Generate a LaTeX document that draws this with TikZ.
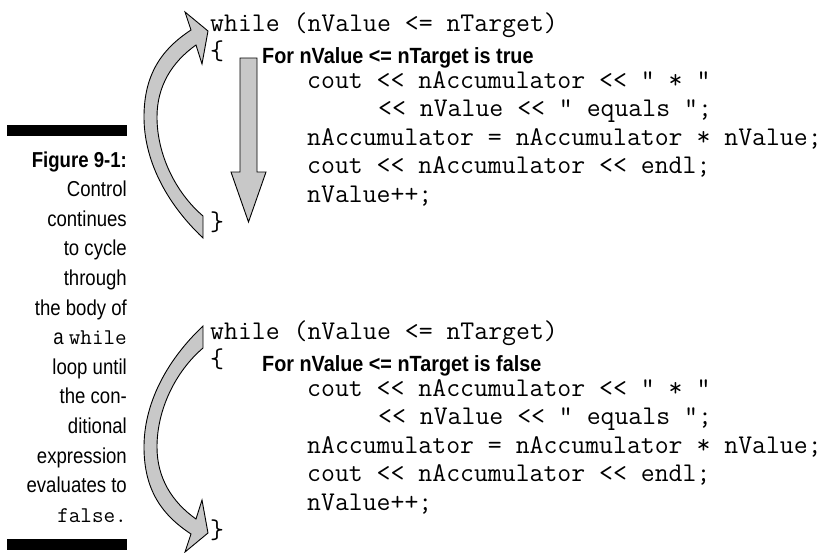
\documentclass[tikz,border=0pt]{standalone}
\usepackage{fontspec}
\newfontfamily\capfont{Liberation Sans}[FakeStretch=0.86]
\newfontfamily\lblfont{Liberation Sans}[FakeStretch=0.9]
\definecolor{arrowgray}{RGB}{200,200,200}
\newcommand{\loopArrowShape}{%
  (203,-326) .. controls (165,-362) and (144,-405) .. (144,-447)
  .. controls (144,-490) and (162,-515) .. (191,-534)
  -- (185,-552) -- (208,-533) -- (202,-500) -- (196,-519)
  .. controls (172,-502) and (157,-478) .. (157,-447)
  .. controls (157,-410) and (175,-372) .. (203,-348) -- cycle}
\begin{document}
\begin{tikzpicture}[x=1pt,y=1pt,
  codetext/.style={anchor=base west, inner sep=0pt, font=\ttfamily\fontsize{27}{28.5}\selectfont},
  captext/.style={anchor=base east, inner sep=0pt, font=\capfont\fontsize{21.6}{29.6}\selectfont},
  captitle/.style={captext, font=\capfont\bfseries\fontsize{21.6}{29.6}\selectfont},
  lbltext/.style={anchor=base west, inner sep=0pt, font=\lblfont\bfseries\fontsize{22}{28}\selectfont},
  garrow/.style={draw=black, fill=arrowgray, line width=0.9pt, line join=miter},
  barfill/.style={fill=black}]
\useasboundingbox (0,0) rectangle (836,-552);

% caption bars
\fill[barfill] (7,-125) rectangle (127,-136);
\fill[barfill] (7,-539) rectangle (127,-550);

% caption text
\node[captitle] (c1) at (127,-167) {Figure 9-1:};
\node[captext] (c2) at (127,-196.6) {Control};
\node[captext] (c3) at (127,-226.2) {continues};
\node[captext] (c4) at (127,-255.8) {to cycle};
\node[captext] (c5) at (127,-285.4) {through};
\node[captext] (c6) at (127,-315) {the body of};
\node[captext] (c7) at (127,-344.6) {a {\ttfamily\fontsize{22.5}{29.6}\selectfont while}};
\node[captext] (c8) at (127,-374.2) {loop until};
\node[captext] (c9) at (127,-403.8) {the con-};
\node[captext] (c10) at (127,-433.4) {ditional};
\node[captext] (c11) at (127,-463) {expression};
\node[captext] (c12) at (127,-492.6) {evaluates to};
\node[captext] (c13) at (127,-522.2) {{\ttfamily\fontsize{22.5}{29.6}\selectfont false.}};

% top block
\node[codetext] (tw) at (210,-31) {while (nValue <= nTarget)};
\node[codetext] (tb) at (210,-59.5) {\{};
\node[lbltext] (tl) at (262,-63) {For nValue <= nTarget is true};
\node[codetext] (t1) at (307,-88) {cout << nAccumulator << " * "};
\node[codetext] (t2) at (378,-116.5) {<< nValue << " equals ";};
\node[codetext] (t3) at (307,-145) {nAccumulator = nAccumulator * nValue;};
\node[codetext] (t4) at (307,-173.5) {cout << nAccumulator << endl;};
\node[codetext] (t5) at (307,-202) {nValue++;};
\node[codetext] (te) at (210,-230.5) {\}};

% bottom block
\node[codetext] (bw) at (210,-339) {while (nValue <= nTarget)};
\node[codetext] (bb) at (210,-367.5) {\{};
\node[lbltext] (bl) at (262,-371) {For nValue <= nTarget is false};
\node[codetext] (b1) at (307,-396) {cout << nAccumulator << " * "};
\node[codetext] (b2) at (378,-424.5) {<< nValue << " equals ";};
\node[codetext] (b3) at (307,-453) {nAccumulator = nAccumulator * nValue;};
\node[codetext] (b4) at (307,-481.5) {cout << nAccumulator << endl;};
\node[codetext] (b5) at (307,-510) {nValue++;};
\node[codetext] (be) at (210,-538.5) {\}};

% straight down arrow
\draw[garrow] (240,-58) -- (257,-58) -- (257,-172) -- (266,-172)
  -- (248.5,-222) -- (231,-172) -- (240,-172) -- cycle;

% curved arrows
\draw[garrow] \loopArrowShape;
\begin{scope}[yshift=-564pt, yscale=-1]
\draw[garrow] \loopArrowShape;
\end{scope}
\end{tikzpicture}
\end{document}
